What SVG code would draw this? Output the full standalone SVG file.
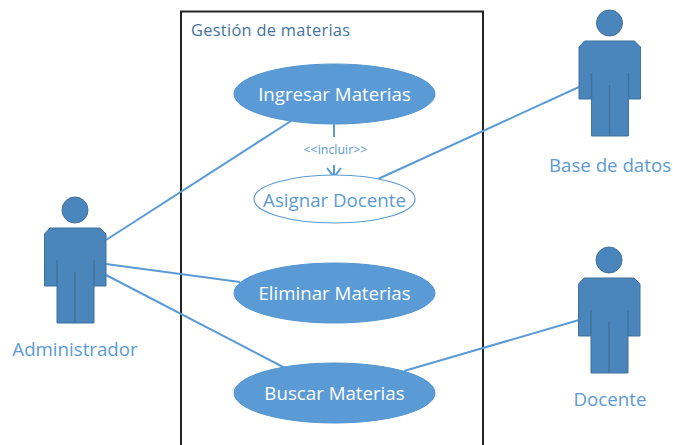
<svg xmlns="http://www.w3.org/2000/svg" width="673" height="445" viewBox="0 0 673 445">
<style>
text{font-family:"Open Sans","Noto Sans","Liberation Sans",sans-serif}
.l{fill:#5b9bd5;font-size:18.7px;text-anchor:middle}
.w{fill:#fff;font-size:18.7px;text-anchor:middle}
.c{stroke:#5b9bd5;stroke-width:2;fill:none}
.uc{fill:#5b9bd5;stroke:#5596d0;stroke-width:1}
.b{fill:#4a86bb;stroke:#41719c;stroke-width:1}
.s{stroke:#41719c;stroke-width:1.5;fill:none}
</style>
<defs>
<g id="actor">
<circle class="b" cx="75" cy="210" r="13"/>
<path class="b" d="M50 228H100L106 234V286H94V323H57V286H44.500V234Z"/>
<path class="s" d="M57 260V286M94 260V286M75 272V323"/>
</g>
</defs>
<rect width="673" height="445" fill="#fff"/>
<g id="system">
<path d="M181 445V11.500H483V445" fill="none" stroke="#222" stroke-width="2"/>
<text x="191" y="35.500" font-size="16.400" fill="#44739f" style="letter-spacing:.3px">Gestión de materias</text>
</g>
<g id="connectors">
<path class="c" d="M106 240L291 121"/>
<path class="c" d="M106 264L240 282"/>
<path class="c" d="M106 275L285 368"/>
<path class="c" d="M334 123V137"/>
<path class="c" d="M334 165V178M327 168L334 177L341 168" stroke-width="1.500"/>
<path class="c" d="M378 179L579 87"/>
<path class="c" d="M404 371L579 320"/>
<text x="335.500" y="154" font-size="12.400" fill="#5b9bd5" text-anchor="middle">&lt;&lt;incluir&gt;&gt;</text>
</g>
<g id="ingresar"><ellipse class="uc" cx="334.500" cy="94" rx="100.500" ry="30"/><text class="w" x="334.500" y="101">Ingresar Materias</text></g>
<g id="asignar"><ellipse cx="334.500" cy="199" rx="80.500" ry="24" fill="#fff" stroke="#5b9bd5" stroke-width="1.200"/><text class="l" x="334.500" y="207">Asignar Docente</text></g>
<g id="eliminar"><ellipse class="uc" cx="334.500" cy="293" rx="100.500" ry="30"/><text class="w" x="334.500" y="300">Eliminar Materias</text></g>
<g id="buscar"><ellipse class="uc" cx="334.500" cy="393" rx="100.500" ry="30"/><text class="w" x="334.500" y="400">Buscar Materias</text></g>
<g id="administrador"><use href="#actor"/><text class="l" x="75" y="356">Administrador</text></g>
<g id="base-de-datos"><use href="#actor" x="534.500" y="-187"/><text class="l" x="610" y="172">Base de datos</text></g>
<g id="docente"><use href="#actor" x="534" y="50"/><text class="l" x="610" y="406">Docente</text></g>
</svg>
